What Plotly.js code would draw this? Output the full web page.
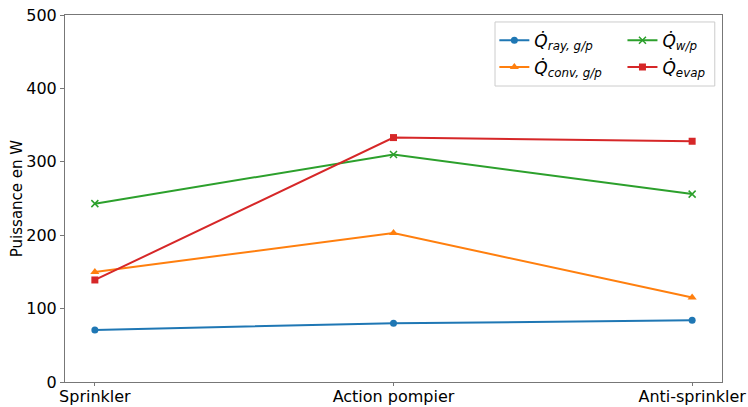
<!DOCTYPE html>
<html>
<head>
<meta charset="utf-8">
<script src="https://cdn.plot.ly/plotly-3.0.1.min.js"></script>
<style>html,body{margin:0;padding:0;background:#fff;}#chart{width:748px;height:407px;}</style>
</head>
<body>
<div id="chart"></div>
<script>
const categories = ["Sprinkler", "Action pompier", "Anti-sprinkler"];
const qRay = [71, 80, 84];
const qConv = [150, 203, 115];
const qWp = [243, 310, 256];
const qEvap = [139, 333, 328];
const yTicks = [0, 100, 200, 300, 400, 500];

const catIdx = categories.map((c, i) => i);
function tr(y, name, color, symbol, leg, size) {
  return {
    x: catIdx, y: y, name: name, type: 'scatter', mode: 'lines+markers',
    line: {color: color, width: 2},
    marker: {color: color, symbol: symbol, size: size},
    legend: leg
  };
}
const data = [
  tr(qRay, '<i>Q̇</i><sub><i>ray, g/p</i></sub>', '#1f77b4', 'circle', 'legend', 7),
  tr(qConv, '<i>Q̇</i><sub><i>conv, g/p</i></sub>', '#ff7f0e', 'triangle-up', 'legend3', 8),
  tr(qWp, '<i>Q̇</i><sub><i>w/p</i></sub>', '#2ca02c', 'x-thin-open', 'legend2', 7),
  tr(qEvap, '<i>Q̇</i><sub><i>evap</i></sub>', '#d62728', 'square', 'legend4', 7)
];
data[2].marker.line = {color: '#2ca02c', width: 1.5};

const legFont = {family: 'DejaVu Sans', size: 17, color: '#000'};
function leg(x, y) {
  return {x: x, xanchor: 'left', y: y, yanchor: 'middle',
    bgcolor: 'rgba(0,0,0,0)', borderwidth: 0, font: legFont, tracegroupgap: 0};
}
const layout = {
  width: 748, height: 407,
  margin: {l: 65, r: 26, t: 15, b: 25},
  paper_bgcolor: '#fff', plot_bgcolor: '#fff',
  font: {family: 'DejaVu Sans', color: '#000', size: 16},
  showlegend: true,
  legend: leg(0.6535, 0.930),
  legend2: leg(0.8485, 0.930),
  legend3: leg(0.6535, 0.857),
  legend4: leg(0.8485, 0.857),
  shapes: [{
    type: 'rect', xref: 'paper', yref: 'paper',
    x0: 0.6545, x1: 0.989, y0: 0.8065, y1: 0.981,
    line: {color: '#cccccc', width: 1}, fillcolor: 'rgba(255,255,255,0.8)', layer: 'above'
  }],
  xaxis: {
    range: [-0.1, 2.1], tickmode: 'array', tickvals: catIdx, ticktext: categories,
    showgrid: false, zeroline: false, showline: true, mirror: true, linecolor: '#777', linewidth: 1,
    ticks: 'outside', ticklen: 3, tickcolor: '#777', tickfont: {size: 16},
    ticklabelstandoff: -3
  },
  yaxis: {
    range: [0, 500], tickmode: 'array', tickvals: yTicks,
    showgrid: false, zeroline: false, showline: true, mirror: true, linecolor: '#777', linewidth: 1,
    ticks: 'outside', ticklen: 4, tickcolor: '#777', tickfont: {size: 16},
    title: {text: 'Puissance en W', font: {size: 15}, standoff: 0}
  }
};
Plotly.newPlot('chart', data, layout, {displayModeBar: false, staticPlot: true});
</script>
</body>
</html>
